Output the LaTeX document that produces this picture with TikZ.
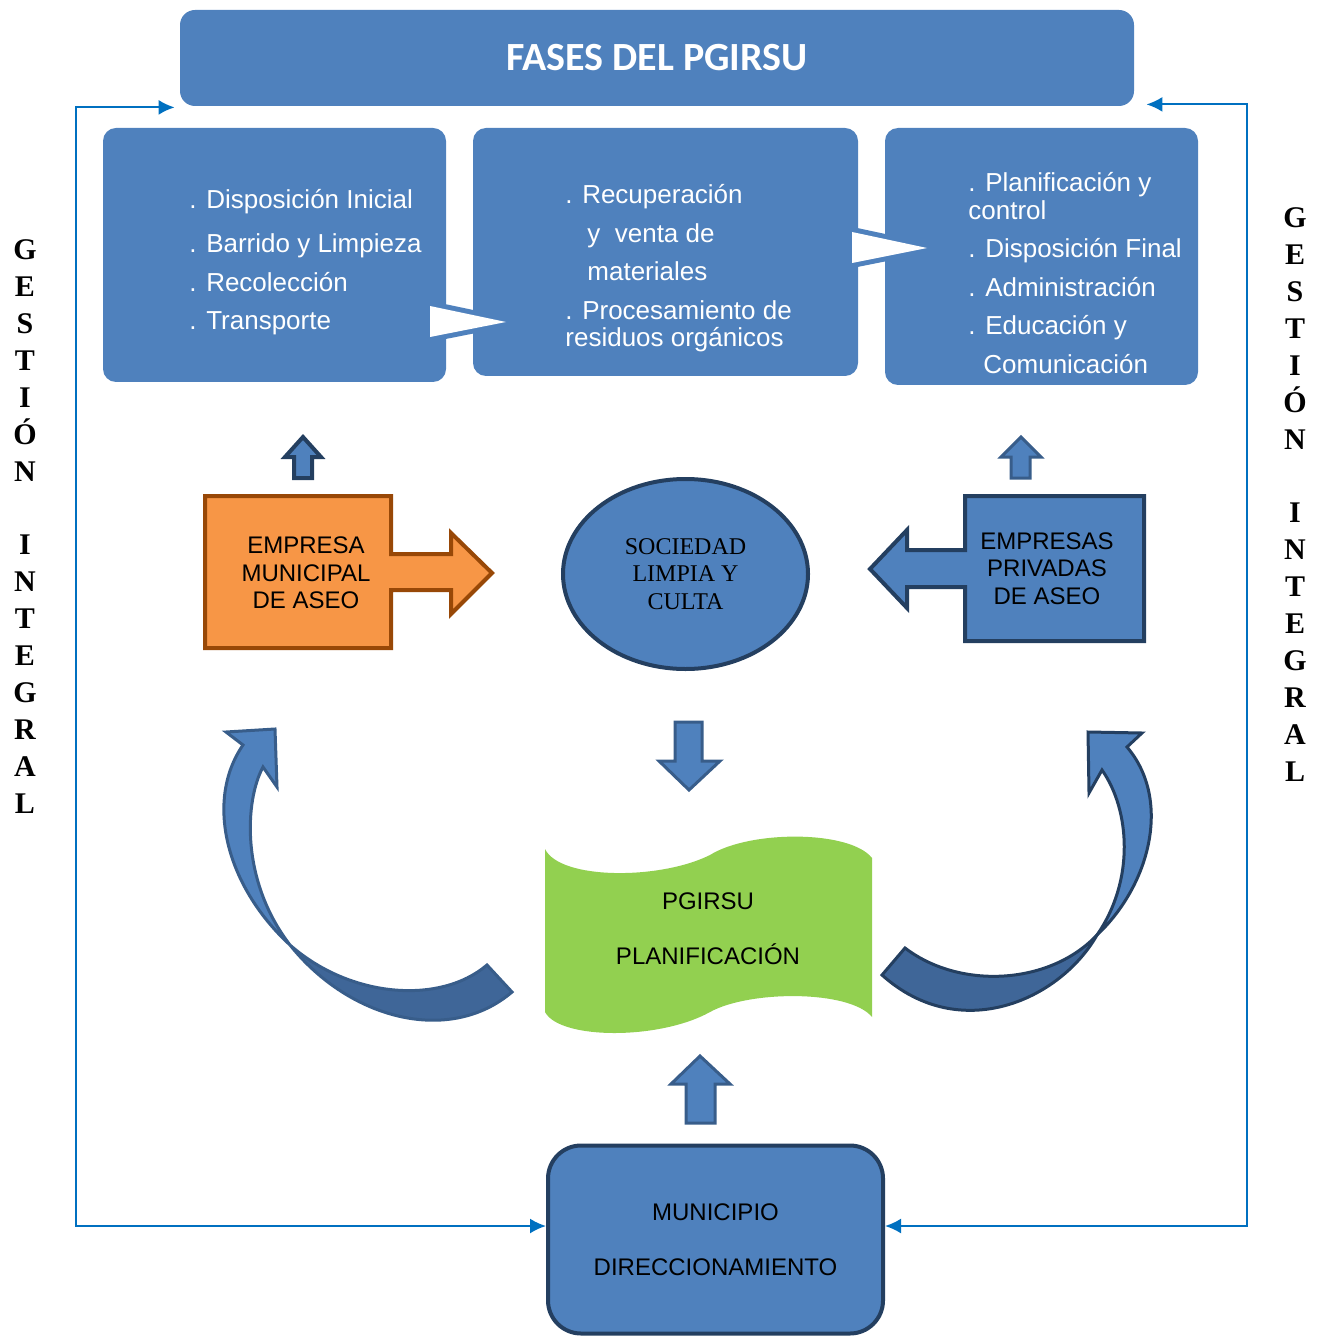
\documentclass[tikz,border=0pt]{standalone}
\usepackage{fontspec}
\setmainfont{Liberation Sans}
\newfontfamily\carlito{Carlito}
\newfontfamily\timesfont{Liberation Serif}
\usepackage{xcolor}
\usetikzlibrary{shapes.geometric,arrows.meta}
\definecolor{boxblue}{HTML}{4F81BD}
\definecolor{darkline}{HTML}{243F60}
\definecolor{midline}{HTML}{385D8A}
\definecolor{tailblue}{HTML}{3F6698}
\definecolor{orangefill}{HTML}{F79646}
\definecolor{orangeline}{HTML}{984807}
\definecolor{wavegreen}{HTML}{92D050}
\definecolor{linkblue}{HTML}{0070C0}
\tikzset{phase/.style={fill=boxblue,draw=none,rounded corners=6.5pt,inner sep=0pt},
 phasetext/.style={text=white,anchor=base west,inner sep=0pt,font=\fontsize{13}{14}\selectfont},
 blocktext/.style={align=center,inner sep=0pt,font=\fontsize{12}{13.75}\selectfont},
 blockarrow/.style={fill=boxblue,draw=midline,line width=1.5pt},
 notch/.style={fill=white,preaction={draw=boxblue,line width=5pt,line join=round}},
 link/.style={draw=linkblue,line width=1pt,>={Latex[length=8pt,width=7.5pt]},<->},
 sideword/.style={align=center,inner sep=0pt,font=\timesfont\bfseries\fontsize{15}{18.45}\selectfont},
 }

\begin{document}
\begin{tikzpicture}[x=0.5pt,y=-0.5pt]
    \useasboundingbox (0,0) rectangle (1326,1336);
    \node[phase,rounded corners=7.5pt,minimum width=477pt,minimum height=48pt,text=white,
        font=\carlito\bfseries\fontsize{20}{24}\selectfont] (title) at (657,58) {FASES DEL PGIRSU};
    \node[phase,minimum width=171.5pt,minimum height=127pt] (f1) at (274.5,255) {};
    \node[phase,minimum width=192.5pt,minimum height=124pt] (f2) at (665.5,252) {};
    \node[phase,minimum width=156.5pt,minimum height=128.5pt] (f3) at (1041.5,256.5) {};
    \foreach \y/\t [count=\i] in {209/. Disposición Inicial,253/. Barrido y Limpieza,292/. Recolección,330/. Transporte}
        \node[phasetext] (a\i) at (189,\y) {\t};
    \foreach \y/\t [count=\i] in {204/. Recuperación,243/\hspace*{11pt}y\ \ venta de,281/\hspace*{11pt}materiales,320/. Procesamiento de,347/residuos orgánicos}
        \node[phasetext] (b\i) at (565,\y) {\t};
    \foreach \y/\t [count=\i] in {192/. Planificación y,220/control,258/. Disposición Final,297/. Administración,335/. Educación y,374/\hspace*{7.5pt}Comunicación}
        \node[phasetext] (c\i) at (968,\y) {\t};
    \path[notch] (430,306) -- (506,322) -- (430,337) -- cycle;
    \path[notch] (852,232) -- (927,248) -- (852,263) -- cycle;

    \draw[blockarrow,draw=darkline,line width=2pt] (294,478) -- (294,457) -- (285,457) -- (303,437) -- (321,457) -- (312,457) -- (312,478) -- cycle;
    \draw[blockarrow] (1011,478) -- (1011,457) -- (1001,457) -- (1021,437) -- (1041,457) -- (1030,457) -- (1030,478) -- cycle;
    \draw[blockarrow] (675,722) -- (702,722) -- (702,761) -- (720,761) -- (689,790) -- (659,761) -- (675,761) -- cycle;
    \draw[blockarrow] (686,1123) -- (686,1084) -- (671,1084) -- (700,1056) -- (730,1084) -- (715,1084) -- (715,1123) -- cycle;

    \draw[fill=orangefill,draw=orangeline,line width=2pt] (205,496) -- (391,496) -- (391,554) -- (451,554) -- (451,533) -- (492,573) -- (451,614) -- (451,590) -- (391,590) -- (391,648) -- (205,648) -- cycle;
    \node[blocktext] (emam) at (306,573) {EMPRESA\\MUNICIPAL\\DE ASEO};
    \draw[fill=boxblue,draw=darkline,line width=2pt] (965,496) -- (1144,496) -- (1144,641) -- (965,641) -- (965,587) -- (907,587) -- (907,608) -- (870,569) -- (907,530) -- (907,550) -- (965,550) -- cycle;
    \node[blocktext] (epa) at (1047,568.5) {EMPRESAS\\PRIVADAS\\DE ASEO};
    \node[ellipse,fill=boxblue,draw=darkline,line width=2pt,minimum width=122.5pt,minimum height=95pt,
        inner sep=0pt,align=center,font=\timesfont\fontsize{12}{13.75}\selectfont] (society) at (685.5,574) {SOCIEDAD\\LIMPIA Y\\CULTA};

    \fill[wavegreen] (545,849) .. controls (560,880) and (660,880) .. (710,855) .. controls (750,830) and (850,830) .. (872,858)
        -- (872,1017) .. controls (850,990) and (750,990) .. (710,1012) .. controls (660,1040) and (560,1040) .. (545,1012) -- cycle;
    \node[blocktext] (plan) at (708,928.5) {PGIRSU\\[13.75pt]PLANIFICACIÓN};

    \filldraw[fill=tailblue,draw=midline,line width=1.5pt] (290,945) .. controls (350,1020) and (450,1045) .. (512,992) -- (487,965) .. controls (440,1005) and (350,998) .. (290,945) -- cycle;
    \filldraw[fill=boxblue,draw=midline,line width=1.5pt] (290,945) .. controls (225,885) and (205,800) .. (243,745) -- (226,732) -- (275,729) -- (277,787) -- (263,767) .. controls (245,800) and (240,880) .. (290,945) -- cycle;
    \filldraw[fill=tailblue,draw=darkline,line width=1.5pt] (1097,935) .. controls (1060,1000) and (960,1045) .. (882,975) -- (905,948) .. controls (960,990) and (1050,985) .. (1097,935) -- cycle;
    \filldraw[fill=boxblue,draw=darkline,line width=1.5pt] (1097,935) .. controls (1150,885) and (1172,800) .. (1127,747) -- (1142,733) -- (1088,732) -- (1089,793) -- (1102,770) .. controls (1130,810) and (1135,880) .. (1097,935) -- cycle;

    \node[rounded corners=16.5pt,fill=boxblue,draw=darkline,line width=2pt,minimum width=167.5pt,minimum height=94pt,
        blocktext] (muni) at (715.5,1239.5) {MUNICIPIO\\[13.75pt]DIRECCIONAMIENTO};

    \coordinate (gl) at (76,1226);
    \coordinate (gr) at (1247,1226);
    \draw[link] ([xshift=-2.5pt,yshift=-0.5pt]title.south west) -| (gl) -- ([yshift=6.75pt]muni.west);
    \draw[link] ([xshift=6pt,yshift=1pt]title.south east) -| (gr) -- ([yshift=6.75pt]muni.east);

    \node[sideword] (gestl) at (25,526.5) {G\\E\\S\\T\\I\\Ó\\N\\[18.45pt]I\\N\\T\\E\\G\\R\\A\\L};
    \node[sideword] (gestr) at (1295,494.5) {G\\E\\S\\T\\I\\Ó\\N\\[18.45pt]I\\N\\T\\E\\G\\R\\A\\L};
\end{tikzpicture}
\end{document}
